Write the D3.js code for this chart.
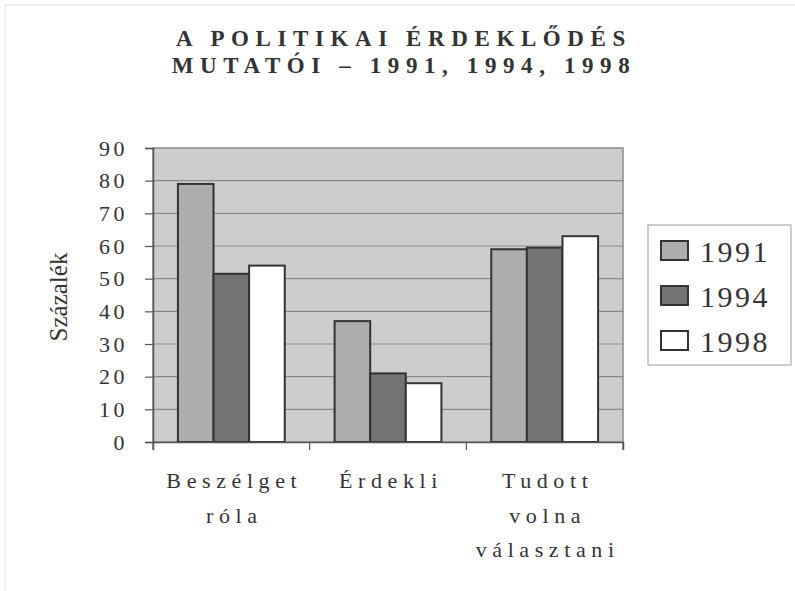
<!DOCTYPE html>
<html><head><meta charset="utf-8">
<script src="https://cdn.jsdelivr.net/npm/d3@7"></script>
<style>body{margin:0;background:#fff}</style>
</head><body>
<svg id="c" width="795" height="591"></svg>
<script>
const categories = [["Beszélget","róla"],["Érdekli"],["Tudott","volna","választani"]];
const categoryKeys = ["Beszélget róla","Érdekli","Tudott volna választani"];
const years = ["1991","1994","1998"];
const values1991 = [79, 37, 59];
const values1994 = [51.5, 21, 59.5];
const values1998 = [54, 18, 63];
const yTicks = [0,10,20,30,40,50,60,70,80,90];
const titleLines = ["A POLITIKAI ÉRDEKLŐDÉS","MUTATÓI – 1991, 1994, 1998"];
const yTitle = "Százalék";

const series = [values1991, values1994, values1998];
const fills = ["#adadad","#737373","#ffffff"];
const font = "'Liberation Serif','Times New Roman',serif";

const svg = d3.select("#c");
svg.append("rect").attr("x",5).attr("y",5).attr("width",800).attr("height",600)
  .attr("fill","none").attr("stroke","#ddd").attr("stroke-width",1);

const L=153, R=623, T=148, B=442;
const x0 = d3.scaleBand().domain(categoryKeys).range([L,R]).paddingInner(0).paddingOuter(0);
const x1 = d3.scaleBand().domain(years).range([0,x0.bandwidth()]).paddingInner(0).paddingOuter(0.7);
const y = d3.scaleLinear().domain([0,90]).range([B,T]);

// plot background
svg.append("rect").attr("x",L).attr("y",T).attr("width",R-L).attr("height",B-T)
  .attr("fill","#cdcdcd").attr("stroke","#8a8a8a").attr("stroke-width",1.5);

// gridlines
svg.append("g").selectAll("line").data(yTicks.filter(d=>d>0 && d<90)).join("line")
  .attr("x1",L).attr("x2",R).attr("y1",d=>y(d)).attr("y2",d=>y(d))
  .attr("stroke","#8a8a8a").attr("stroke-width",1.2);

// bars
categoryKeys.forEach((c,ci)=>{
  years.forEach((yr,si)=>{
    const v = series[si][ci];
    svg.append("rect")
      .attr("x", x0(c)+x1(yr)).attr("y", y(v))
      .attr("width", x1.bandwidth()).attr("height", y(0)-y(v))
      .attr("fill", fills[si]).attr("stroke","#333").attr("stroke-width",2);
  });
});

// y axis
const yAxis = d3.axisLeft(y).tickValues(yTicks).tickSize(8).tickPadding(17);
const gy = svg.append("g").attr("transform",`translate(${L},0)`).call(yAxis);
gy.select(".domain").attr("stroke","#555").attr("stroke-width",1.5);
gy.selectAll(".tick line").attr("stroke","#555").attr("stroke-width",1.2);
gy.selectAll(".tick text").attr("font-family",font).attr("font-size",22)
  .attr("fill","#333").attr("letter-spacing","3.5px");

// x axis
const xAxis = d3.axisBottom(x0).tickSize(8).tickFormat("");
const gx = svg.append("g").attr("transform",`translate(0,${B})`).call(xAxis);
gx.select(".domain").attr("stroke","#555").attr("stroke-width",1.5);
gx.selectAll(".tick").remove();
gx.selectAll("line.sep").data(d3.range(categoryKeys.length+1)).join("line")
  .attr("x1",i=>L+i*x0.bandwidth()).attr("x2",i=>L+i*x0.bandwidth())
  .attr("y1",0).attr("y2",8).attr("stroke","#555").attr("stroke-width",1.2);

categories.forEach((lines,ci)=>{
  const cx = x0(categoryKeys[ci]) + x0.bandwidth()/2;
  lines.forEach((ln,li)=>{
    svg.append("text").attr("x",cx+3).attr("y",488+li*34.5)
      .attr("text-anchor","middle").attr("font-family",font).attr("font-size",22)
      .attr("letter-spacing","5.6px").attr("fill","#333").text(ln);
  });
});

// y title
svg.append("text").attr("transform","translate(67,297) rotate(-90)")
  .attr("text-anchor","middle").attr("font-family",font).attr("font-size",25)
  .attr("fill","#333").text(yTitle);

// title
titleLines.forEach((t,i)=>{
  svg.append("text").attr("x",404).attr("y",46+i*27)
    .attr("text-anchor","middle").attr("font-family",font).attr("font-size",23)
    .attr("font-weight","bold").attr("letter-spacing","6.6px").attr("fill","#333").text(t);
});

// legend
const lg = svg.append("g");
lg.append("rect").attr("x",648).attr("y",225).attr("width",143).attr("height",140)
  .attr("fill","#fff").attr("stroke","#999").attr("stroke-width",1);
years.forEach((yr,i)=>{
  lg.append("rect").attr("x",661).attr("y",241+i*45).attr("width",27).attr("height",19)
    .attr("fill",fills[i]).attr("stroke","#333").attr("stroke-width",2);
  lg.append("text").attr("x",700).attr("y",262+i*45).attr("font-family",font)
    .attr("font-size",30).attr("letter-spacing","2.5px").attr("fill","#333").text(yr);
});
</script>
</body></html>
